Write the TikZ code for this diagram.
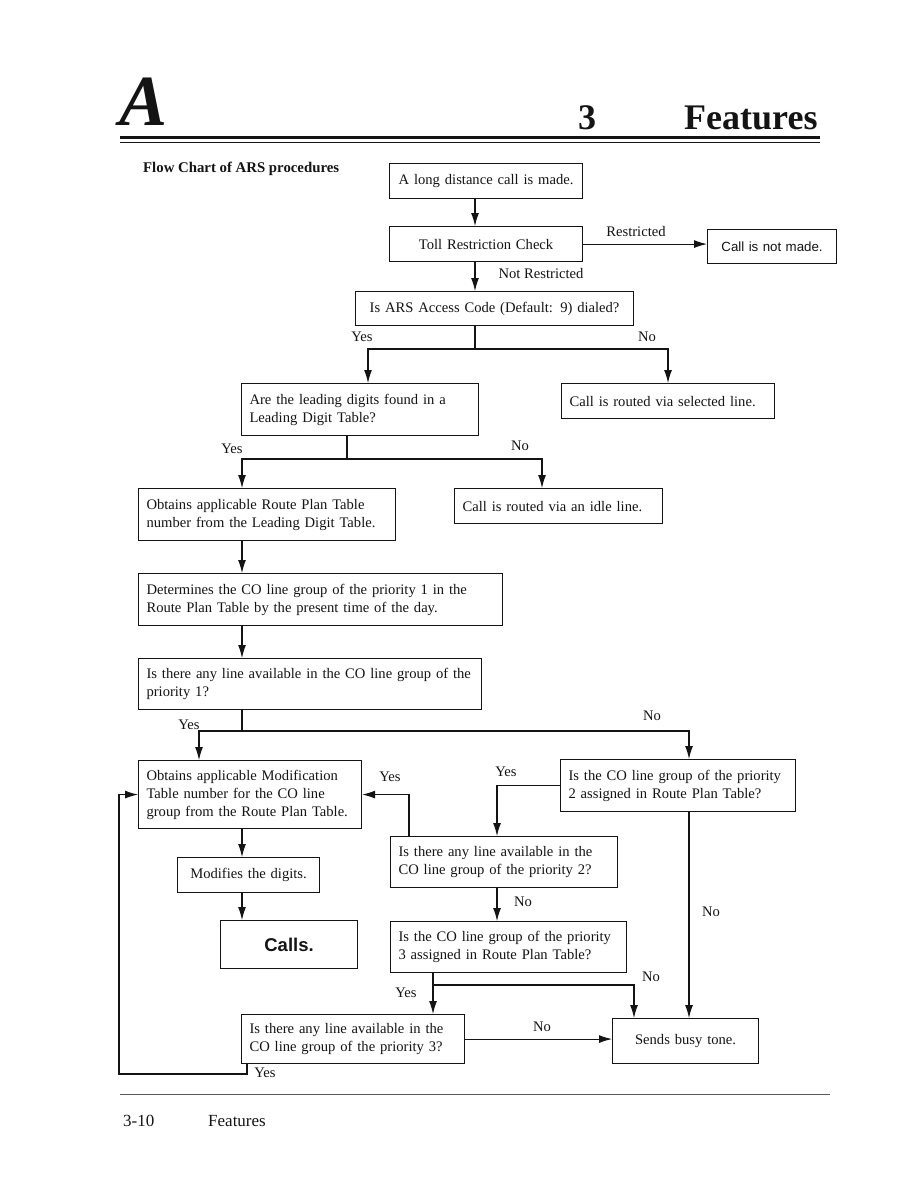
\documentclass[tikz,border=0pt]{standalone}
\usepackage{fontspec}
\setmainfont{Liberation Serif}
\newfontfamily\sansfont{Liberation Sans}
\usetikzlibrary{arrows.meta}
\definecolor{ink}{HTML}{141414}
\definecolor{rulegray}{HTML}{5A5A5A}
\tikzset{
  boxtext/.style={font=\fontsize{14.6}{18}\selectfont,text=ink},
  box/.style={boxtext,draw=ink,line width=1.1pt,anchor=north west,inner xsep=8pt,inner ysep=0pt,align=left},
  cbox/.style={box,inner xsep=3pt,align=center},
  lbl/.style={boxtext,inner sep=1pt},
  line/.style={draw=ink,line width=1.1pt},
  arr/.style={-{Latex[length=13pt,width=8pt]},draw=ink,line width=1.1pt},
  head/.style={font=\bfseries\fontsize{36}{36}\selectfont,text=ink,anchor=base west,inner sep=0pt},
  foot/.style={font=\fontsize{17}{17}\selectfont,text=ink,anchor=base west,inner sep=0pt}
}

\begin{document}
\begin{tikzpicture}[x=1pt,y=-1pt]
\path[use as bounding box,fill=white] (0,0) rectangle (918,1193);
% page head
\node[anchor=base west,inner sep=0pt,font=\bfseries\itshape\fontsize{72}{72}\selectfont,text=ink] (letter) at (119,126) {A};
\node[head] (chapnum) at (578,130) {3};
\node[head] (chaptitle) at (684,130) {Features};
\draw[ink,line width=3pt] (120,137.5) -- (820,137.5);
\draw[ink,line width=0.9pt] (120,142.5) -- (820,142.5);
\node[anchor=base west,inner sep=0pt,font=\bfseries\fontsize{14.8}{17}\selectfont,text=ink] (charttitle) at (143,172) {Flow Chart of ARS procedures};

% boxes
\node[cbox,text width=187pt,minimum height=35pt] (start) at (389,163) {A long distance call is made.};
\node[cbox,text width=187pt,minimum height=35pt] (toll) at (389,226) {Toll Restriction Check};
\node[cbox,text width=123pt,minimum height=34pt,font=\sansfont\fontsize{13.3}{16}\selectfont] (notmade) at (707,229) {Call is not made.};
\node[cbox,text width=272pt,minimum height=34pt] (arscode) at (355,291) {Is ARS Access Code (Default: 9) dialed?};
\node[box,text width=221pt,minimum height=52pt] (leading) at (241,383) {Are the leading digits found in a\\Leading Digit Table?};
\node[box,text width=197pt,minimum height=35pt] (selected) at (561,383) {Call is routed via selected line.};
\node[box,text width=241pt,minimum height=52pt] (routeplan) at (138,488) {Obtains applicable Route Plan Table\\number from the Leading Digit Table.};
\node[box,text width=192pt,minimum height=35pt] (idle) at (454,488) {Call is routed via an idle line.};
\node[box,text width=348pt,minimum height=52pt] (determine) at (138,573) {Determines the CO line group of the priority 1 in the\\Route Plan Table by the present time of the day.};
\node[box,text width=327pt,minimum height=51pt] (avail1) at (138,658) {Is there any line available in the CO line group of the\\priority 1?};
\node[box,text width=207pt,minimum height=68pt] (modification) at (138,760) {Obtains applicable Modification\\Table number for the CO line\\group from the Route Plan Table.};
\node[box,text width=219pt,minimum height=52pt] (prio2) at (560,759) {Is the CO line group of the priority\\2 assigned in Route Plan Table?};
\node[box,text width=211pt,minimum height=51pt] (avail2) at (390,836) {Is there any line available in the\\CO line group of the priority 2?};
\node[cbox,text width=136pt,minimum height=35pt] (modifies) at (177,857) {Modifies the digits.};
\node[cbox,text width=131pt,minimum height=48pt,font=\sansfont\bfseries\fontsize{18.5}{20}\selectfont] (calls) at (220,920) {Calls.};
\node[box,text width=220pt,minimum height=51pt] (prio3) at (390,921) {Is the CO line group of the priority\\3 assigned in Route Plan Table?};
\node[box,text width=207pt,minimum height=49pt] (avail3) at (241,1014) {Is there any line available in the\\CO line group of the priority 3?};
\node[cbox,text width=140pt,minimum height=45pt] (busy) at (612,1018) {Sends busy tone.};

% columns and turning points
\coordinate (split1) at (475,349);
\coordinate (colB) at (368,0);
\coordinate (colC) at (668,0);
\coordinate (split2) at (347,459);
\coordinate (colE) at (242,0);
\coordinate (colF) at (542,0);
\coordinate (split3) at (242,731);
\coordinate (colG) at (199,0);
\coordinate (colH) at (689,0);
\coordinate (colI) at (409,0);
\coordinate (colJ) at (497,0);
\coordinate (split4) at (433,985);
\coordinate (colL) at (634,0);
\coordinate (colM) at (247,0);
\coordinate (loopturn) at (119,1074);

% connectors
\draw[arr] (start.south -| split1) -- (toll.north -| split1);
\draw[arr] (toll.east) -- (toll.east -| notmade.west);
\draw[arr] (toll.south -| split1) -- (arscode.north -| split1);
\draw[line] (arscode.south -| split1) -- (split1);
\draw[arr] (split1) -| (leading.north -| colB);
\draw[arr] (split1) -| (selected.north -| colC);
\draw[line] (leading.south -| split2) -- (split2);
\draw[arr] (split2) -| (routeplan.north -| colE);
\draw[arr] (split2) -| (idle.north -| colF);
\draw[arr] (routeplan.south -| colE) -- (determine.north -| colE);
\draw[arr] (determine.south -| colE) -- (avail1.north -| colE);
\draw[line] (avail1.south -| split3) -- (split3);
\draw[arr] (split3) -| (modification.north -| colG);
\draw[arr] (split3) -| (prio2.north -| colH);
\draw[arr] (modification.south -| colE) -- (modifies.north -| colE);
\draw[arr] (modifies.south -| colE) -- (calls.north -| colE);
\draw[arr] (prio2.west) -| (avail2.north -| colJ);
\draw[arr] (avail2.north -| colI) |- (modification.east);
\draw[arr] (avail2.south -| colJ) -- (prio3.north -| colJ);
\draw[arr] (prio2.south -| colH) -- (busy.north -| colH);
\draw[line] (prio3.south -| split4) -- (split4);
\draw[arr] (split4) -- (avail3.north -| split4);
\draw[arr] (split4) -| (busy.north -| colL);
\draw[arr] (avail3.east) -- (avail3.east -| busy.west);
\draw[arr] (avail3.south -| colM) |- (loopturn) |- (modification.west);

% labels
\node[lbl] (restricted) at (636,232) {Restricted};
\node[lbl] (notrestricted) at (541,274) {Not Restricted};
\node[lbl] (ars-yes) at (362,337) {Yes};
\node[lbl] (ars-no) at (647,337) {No};
\node[lbl] (lead-yes) at (232,449) {Yes};
\node[lbl] (lead-no) at (520,446) {No};
\node[lbl] (p1-yes) at (189,725) {Yes};
\node[lbl] (p1-no) at (652,716) {No};
\node[lbl] (a2-yes) at (390,777) {Yes};
\node[lbl] (p2-yes) at (506,772) {Yes};
\node[lbl] (a2-no) at (523,902) {No};
\node[lbl] (p2-no) at (711,912) {No};
\node[lbl] (p3-no) at (651,977) {No};
\node[lbl] (p3-yes) at (406,993) {Yes};
\node[lbl] (a3-no) at (542,1027) {No};
\node[lbl] (a3-yes) at (265,1073) {Yes};

% page foot
\draw[rulegray,line width=0.8pt] (120,1094) -- (830,1094);
\node[foot] (pagenum) at (123,1126) {3-10};
\node[foot] (pagetitle) at (208,1126) {Features};
\end{tikzpicture}
\end{document}
